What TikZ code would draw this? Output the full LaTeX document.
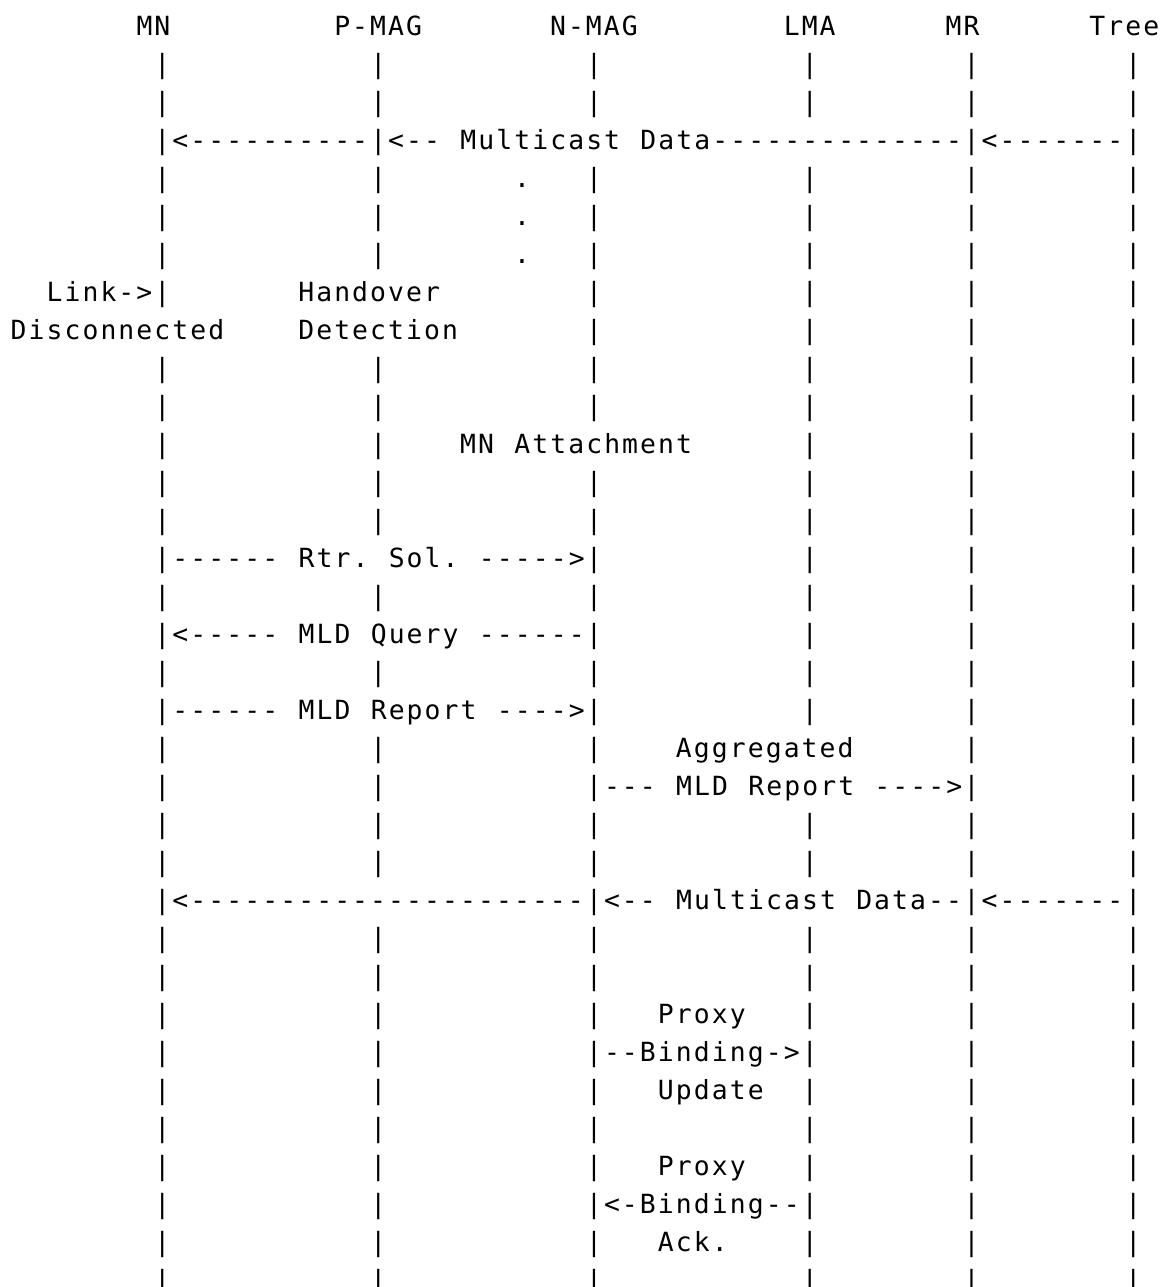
\documentclass[tikz,border=0pt]{standalone}
\usepackage{fontspec}
\setmonofont[LetterSpace=7.9,WordSpace=1.1314]{DejaVu Sans Mono}
\begin{document}
\begin{tikzpicture}[x=8.99pt, y=-19pt,
    every node/.style={anchor=base west, inner sep=0pt, xshift=0.52pt,
        font=\fontsize{13.2}{19}\selectfont\ttfamily}]
    \useasboundingbox (-0.512,-0.921) rectangle (64.34,32.947);

    % Header row: the six entities
    \node (mn) at (7,0) {MN};
    \node (pmag) at (18,0) {P-MAG};
    \node (nmag) at (30,0) {N-MAG};
    \node (lma) at (43,0) {LMA};
    \node (mr) at (52,0) {MR};
    \node (tree) at (60,0) {Tree};

    % Rows where all six lifelines show
    \foreach \r in {1,2,4,5,6,9,10,12,13,15,17,21,22,24,25,...,33}
        \foreach \c in {8,20,32,44,53,62}
            \node (bar\r-\c) at (\c,\r) {|};

    % Rows where some lifelines are hidden by text
    \foreach \c in {8,20,53,62} \node (bar3-\c) at (\c,3) {|};
    \foreach \r in {7,14,16,18}
        \foreach \c in {8,32,44,53,62} \node (bar\r-\c) at (\c,\r) {|};
    \foreach \c in {32,44,53,62} \node (bar8-\c) at (\c,8) {|};
    \foreach \c in {8,20,44,53,62} \node (bar11-\c) at (\c,11) {|};
    \foreach \r in {19,20}
        \foreach \c in {8,20,32,53,62} \node (bar\r-\c) at (\c,\r) {|};
    \foreach \c in {8,32,53,62} \node (bar23-\c) at (\c,23) {|};

    % Multicast data over the old MAG
    \node (olddata) at (9,3) {<----------};
    \node (olddatab) at (21,3) {<-- Multicast Data--------------};
    \node (olddatac) at (54,3) {<-------};
    \foreach \r in {4,5,6} \node (dot\r) at (28,\r) {.};

    % Handover
    \node (link) at (2,7) {Link->};
    \node (disc) at (0,8) {Disconnected};
    \node (hoa) at (16,7) {Handover};
    \node (hob) at (16,8) {Detection};
    \node (attach) at (25,11) {MN Attachment};

    % Signalling with the new MAG
    \node (rtrsol) at (9,14) {------ Rtr. Sol. ----->};
    \node (query) at (9,16) {<----- MLD Query ------};
    \node (report) at (9,18) {------ MLD Report ---->};
    \node (agga) at (37,19) {Aggregated};
    \node (aggb) at (33,20) {--- MLD Report ---->};

    % Multicast data over the new MAG
    \node (newdata) at (9,23) {<----------------------};
    \node (newdatab) at (33,23) {<-- Multicast Data--};
    \node (newdatac) at (54,23) {<-------};

    % Proxy binding
    \node (pbua) at (36,26) {Proxy};
    \node (pbub) at (33,27) {--Binding->};
    \node (pbuc) at (36,28) {Update};
    \node (pbaa) at (36,30) {Proxy};
    \node (pbab) at (33,31) {<-Binding--};
    \node (pbac) at (36,32) {Ack.};
\end{tikzpicture}
\end{document}
